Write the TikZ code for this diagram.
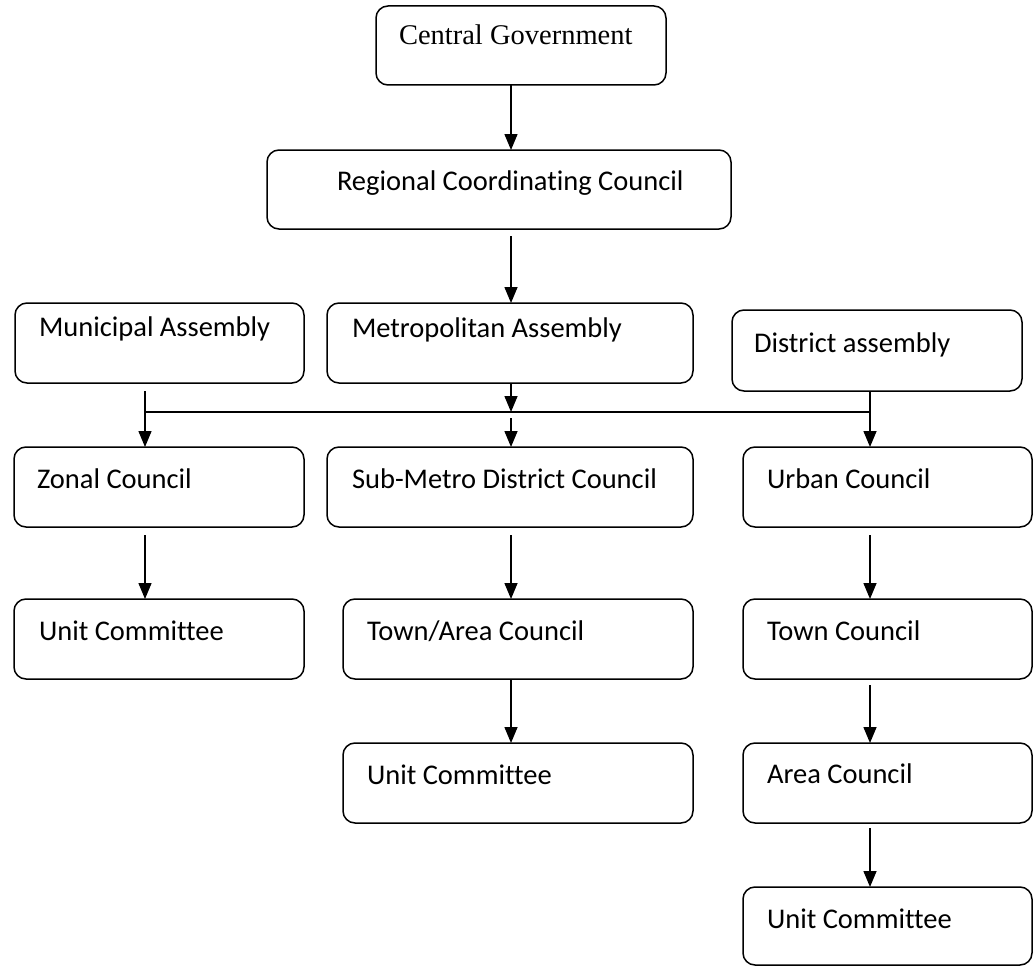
\documentclass[tikz,border=0pt]{standalone}
\usepackage{fontspec}
\setmainfont{Carlito}[Ligatures=NoCommon]
\newfontfamily\serifcg{Liberation Serif}
\usetikzlibrary{arrows.meta}
\begin{document}
\begin{tikzpicture}[x=1pt,y=-1pt,
  box/.style={draw, line width=1.5pt, rounded corners=12pt, anchor=north west, inner sep=0pt, outer sep=0pt},
  lbl/.style={anchor=base west, inner sep=0pt, outer sep=0pt, font=\fontsize{28.5}{34}\selectfont},
  cglbl/.style={anchor=base west, inner sep=0pt, outer sep=0pt, font=\serifcg\fontsize{28.5}{34}\selectfont},
  arr/.style={line width=1.5pt, -{Triangle[length=16pt,width=13pt]}},
  ln/.style={line width=1.5pt}]
\useasboundingbox (0,0) rectangle (1034,966);
% boxes
\node[box, minimum width=290pt, minimum height=79pt] (cg) at (376,6) {};
\node[box, minimum width=464pt, minimum height=79pt] (rcc) at (267,150) {};
\node[box, minimum width=289pt, minimum height=80pt] (mun) at (15,303) {};
\node[box, minimum width=366pt, minimum height=80pt] (met) at (327,303) {};
\node[box, minimum width=290pt, minimum height=81pt] (dis) at (732,310) {};
\node[box, minimum width=290pt, minimum height=80pt] (zon) at (14,447) {};
\node[box, minimum width=366pt, minimum height=80pt] (sub) at (327,447) {};
\node[box, minimum width=289pt, minimum height=80pt] (urb) at (743,447) {};
\node[box, minimum width=290pt, minimum height=80pt] (unl) at (14,599) {};
\node[box, minimum width=350pt, minimum height=80pt] (tac) at (343,599) {};
\node[box, minimum width=350pt, minimum height=80pt] (unm) at (343,743) {};
\node[box, minimum width=289pt, minimum height=80pt] (twc) at (743,599) {};
\node[box, minimum width=289pt, minimum height=80pt] (arc) at (743,743) {};
\node[box, minimum width=289pt, minimum height=78pt] (unr) at (743,887) {};
% texts
\node[cglbl] (tcg) at (399,45) {Central Government};
\node[lbl] (trcc) at (337,190) {Regional Coordinating Council};
\node[lbl] (tmun) at (39,336) {Municipal Assembly};
\node[lbl] (tmet) at (352,337) {Metropolitan Assembly};
\node[lbl] (tdis) at (754,352) {District assembly};
\node[lbl] (tzon) at (37,488) {Zonal Council};
\node[lbl] (tsub) at (352,488) {Sub-Metro District Council};
\node[lbl] (turb) at (767,488) {Urban Council};
\node[lbl] (tunl) at (39,640) {Unit Committee};
\node[lbl] (ttac) at (367,640) {Town/Area Council};
\node[lbl] (tunm) at (367,784) {Unit Committee};
\node[lbl] (ttwc) at (767,640) {Town Council};
\node[lbl] (tarc) at (767,783) {Area Council};
\node[lbl] (tunr) at (767,928) {Unit Committee};
% connector columns
\coordinate (xl) at (145,0);
\coordinate (xm) at (511,0);
\coordinate (xr) at (870,0);
\coordinate (jl) at (145,412);
\coordinate (jm) at (511,412);
\coordinate (jr) at (870,412);
% connectors
\draw[arr] (cg.south -| xm) -- (rcc.north -| xm);
\draw[arr, shorten <=7pt] (rcc.south -| xm) -- (met.north -| xm);
\draw[arr] (met.south -| xm) -- (jm);
\draw[ln] (jl) -- (jr);
\draw[arr, shorten <=8pt] (mun.south -| xl) -- (zon.north -| xl);
\draw[arr] (dis.south -| xr) -- (urb.north -| xr);
\draw[arr, shorten <=6pt] (jm) -- (sub.north -| xm);
\draw[arr, shorten <=8pt] (zon.south -| xl) -- (unl.north -| xl);
\draw[arr, shorten <=8pt] (sub.south -| xm) -- (tac.north -| xm);
\draw[arr] (tac.south -| xm) -- (unm.north -| xm);
\draw[arr, shorten <=8pt] (urb.south -| xr) -- (twc.north -| xr);
\draw[arr, shorten <=6pt] (twc.south -| xr) -- (arc.north -| xr);
\draw[arr, shorten <=5pt] (arc.south -| xr) -- (unr.north -| xr);
\end{tikzpicture}
\end{document}
